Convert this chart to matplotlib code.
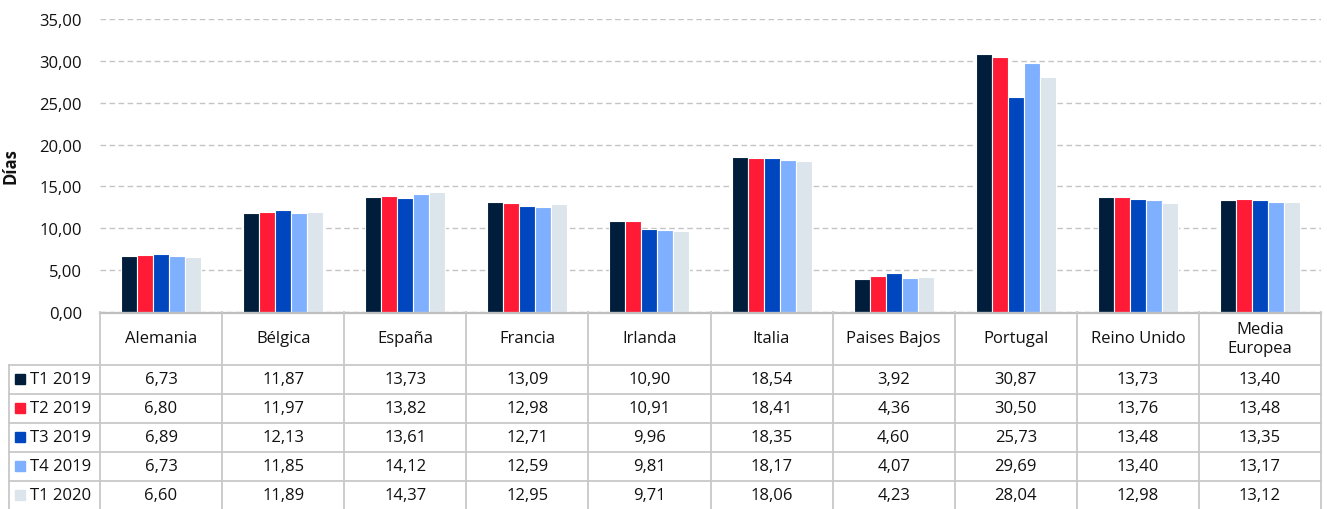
import matplotlib
matplotlib.use("Agg")
import matplotlib.pyplot as plt
from matplotlib.patches import Rectangle
import numpy as np

plt.rcParams['font.family'] = ['Open Sans', 'DejaVu Sans']

categories = ["Alemania", "Bélgica", "España", "Francia", "Irlanda", "Italia",
              "Paises Bajos", "Portugal", "Reino Unido", "Media\nEuropea"]
series_names = ["T1 2019", "T2 2019", "T3 2019", "T4 2019", "T1 2020"]
t1_2019 = [6.73, 11.87, 13.73, 13.09, 10.90, 18.54, 3.92, 30.87, 13.73, 13.40]
t2_2019 = [6.80, 11.97, 13.82, 12.98, 10.91, 18.41, 4.36, 30.50, 13.76, 13.48]
t3_2019 = [6.89, 12.13, 13.61, 12.71, 9.96, 18.35, 4.60, 25.73, 13.48, 13.35]
t4_2019 = [6.73, 11.85, 14.12, 12.59, 9.81, 18.17, 4.07, 29.69, 13.40, 13.17]
t1_2020 = [6.60, 11.89, 14.37, 12.95, 9.71, 18.06, 4.23, 28.04, 12.98, 13.12]
series = [t1_2019, t2_2019, t3_2019, t4_2019, t1_2020]
colors = ["#001E3C", "#FF1A35", "#0046BE", "#7FB0FF", "#DCE4EC"]
yticks = [0, 5, 10, 15, 20, 25, 30, 35]
ylabel = "Días"

W, H = 1327, 510
fig = plt.figure(figsize=(W / 100, H / 100), dpi=100)
FS = 12
TC = "#111111"

# pixel layout
x_left, x_right = 100, 1321
y_top, y_zero = 20, 313
ax = fig.add_axes([x_left / W, 1 - y_zero / H, (x_right - x_left) / W, (y_zero - y_top) / H])

n = len(categories)
x = np.arange(n)
bw = 0.131
for i, (vals, c) in enumerate(zip(series, colors)):
    ax.bar(x + (i - 2) * bw, vals, width=bw, color=c, edgecolor="white",
           linewidth=0.8, zorder=3, label=series_names[i])

ax.set_xlim(-0.5, n - 0.5)
ax.set_ylim(0, 35)
ax.set_yticks(yticks)
ax.set_yticklabels([f"{v:.2f}".replace('.', ',') for v in yticks], fontsize=FS, color=TC)
ax.set_xticks([])
ax.tick_params(axis='y', length=0, pad=13)
ax.grid(axis='y', color="#C4C4C4", linestyle=(0, (4, 2.5)), linewidth=1, zorder=0)
for s in ["top", "right", "left", "bottom"]:
    ax.spines[s].set_visible(False)
ax.set_ylabel(ylabel, fontsize=FS, fontweight="bold", color=TC)
ax.yaxis.set_label_coords(-81 / (x_right - x_left), 0.5)

# table axes in pixel coordinates
tx0 = 8
tax = fig.add_axes([tx0 / W, 0, (x_right - tx0) / W, (H - y_zero) / H])
tax.set_xlim(tx0, x_right)
tax.set_ylim(H, y_zero)
tax.axis("off")

lc = "#C8C8C8"
colw = (x_right - x_left) / n
hdr_bottom = 366
rowh = 29
rows_y = [hdr_bottom + rowh * k for k in range(len(series) + 1)]

# top border (axis line)
tax.plot([x_left, x_right], [y_zero + 1, y_zero + 1], color="#BFBFBF", lw=1.6, clip_on=False)
# vertical lines
for k in range(n + 1):
    xv = x_left + colw * k
    tax.plot([xv, xv], [y_zero, H + 2], color=lc, lw=1.3, clip_on=False)
tax.plot([tx0 + 1, tx0 + 1], [hdr_bottom, H + 2], color=lc, lw=1.3, clip_on=False)
# horizontal lines
for yv in rows_y:
    tax.plot([tx0 + 1, x_right], [yv, yv], color=lc, lw=1.3, clip_on=False)

# header
for k, cat in enumerate(categories):
    tax.text(x_left + colw * (k + 0.5), (y_zero + hdr_bottom) / 2, cat,
             ha="center", va="center", fontsize=FS, color=TC, linespacing=1.25)

# rows
for r, (name, vals, c) in enumerate(zip(series_names, series, colors)):
    yc = rows_y[r] + rowh / 2
    tax.add_patch(Rectangle((15, yc - 5), 10, 10, color=c, clip_on=False))
    tax.text(30, yc, name, ha="left", va="center", fontsize=FS, color=TC)
    for k, v in enumerate(vals):
        tax.text(x_left + colw * (k + 0.5), yc, f"{v:.2f}".replace('.', ','),
                 ha="center", va="center", fontsize=FS, color=TC)

fig.savefig("out.png", dpi=100)
